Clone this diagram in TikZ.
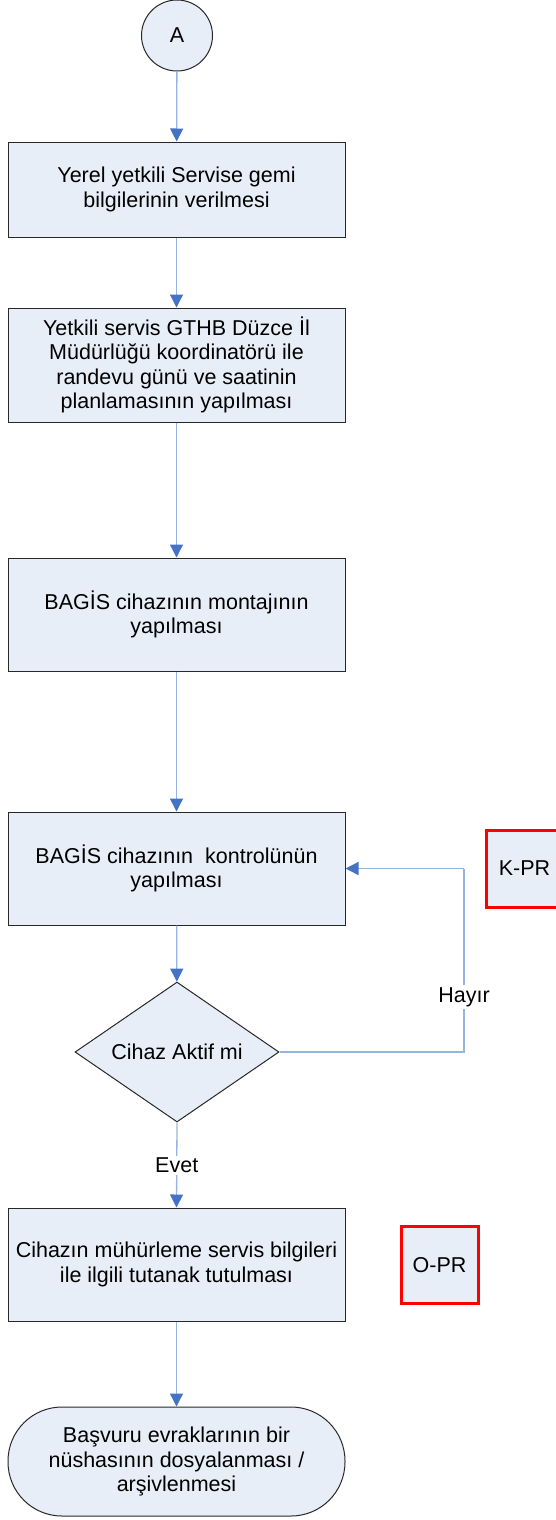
\documentclass[tikz,border=0pt]{standalone}
\usepackage{fontspec}
\setmainfont{Liberation Sans}
\usetikzlibrary{shapes.geometric,arrows.meta}
\definecolor{boxfill}{RGB}{232,238,247}
\definecolor{linecol}{RGB}{150,180,222}
\definecolor{headcol}{RGB}{68,114,196}
\definecolor{edgecol}{RGB}{40,40,40}
\tikzset{
  txt/.style={font=\fontsize{21.5}{24.5}\selectfont, align=center, text=black},
  procbox/.style={txt, draw=edgecol, line width=1pt, fill=boxfill, rectangle, minimum width=337pt, inner sep=0pt},
  redbox/.style={txt, draw=red, line width=3pt, fill=boxfill, rectangle, minimum width=77pt, minimum height=77pt, inner sep=0pt},
  conn/.style={draw=linecol, line width=1.3pt, -{Triangle[length=13pt,width=13pt,color=headcol]}},
  plain/.style={draw=linecol, line width=1.3pt},
  lbl/.style={txt, fill=white, inner sep=2pt}
}
\begin{document}
\begin{tikzpicture}[x=1pt,y=-1pt]
\useasboundingbox (0,0) rectangle (556,1520);
\node[txt, circle, draw=edgecol, line width=1pt, fill=boxfill, minimum size=71pt, inner sep=0pt] (A) at (177,35.5) {A};
\node[procbox, minimum height=95pt] (b1) at (176.5,189.5) {Yerel yetkili Servise gemi\\bilgilerinin verilmesi};
\node[procbox, minimum height=114pt] (b2) at (176.5,365) {Yetkili servis GTHB Düzce İl\\Müdürlüğü koordinatörü ile\\randevu günü ve saatinin\\planlamasının yapılması};
\node[procbox, minimum height=113pt] (b3) at (176.5,614.5) {BAGİS cihazının montajının\\yapılması};
\node[procbox, minimum height=113pt] (b4) at (176.5,868.5) {BAGİS cihazının\ \ kontrolünün\\yapılması};
\node[txt, diamond, draw=edgecol, line width=1pt, fill=boxfill, minimum width=204pt, minimum height=140pt, aspect=1.457, inner sep=0pt] (d) at (177,1052) {Cihaz Aktif mi};
\node[procbox, minimum height=113pt] (b5) at (176.5,1264.5) {Cihazın mühürleme servis bilgileri\\ile ilgili tutanak tutulması};
\node[txt, draw=edgecol, line width=1pt, fill=boxfill, rectangle, rounded corners=54pt, minimum width=337pt, minimum height=109pt, inner sep=0pt] (t) at (176.5,1461.5) {Başvuru evraklarının bir\\nüshasının dosyalanması /\\arşivlenmesi};
\node[redbox] (kpr) at (524.5,868.5) {K-PR};
\node[redbox] (opr) at (439.5,1265) {O-PR};
\coordinate (c1) at (464,1052);
\coordinate (c2) at (464,868.5);
\draw[conn] (A) -- (b1);
\draw[conn] (b1) -- (b2);
\draw[conn] (b2) -- (b3);
\draw[conn] (b3) -- (b4);
\draw[conn] (b4) -- (d);
\draw[conn] (d.south) -- node[lbl, pos=0.5] (evet) {Evet} (b5.north);
\draw[conn] (b5) -- (t);
\draw[plain] (d.east) -- (c1) -- node[lbl, pos=0.3] (hayir) {Hayır} (c2);
\draw[conn] (c2) -- (b4.east);
\end{tikzpicture}
\end{document}
